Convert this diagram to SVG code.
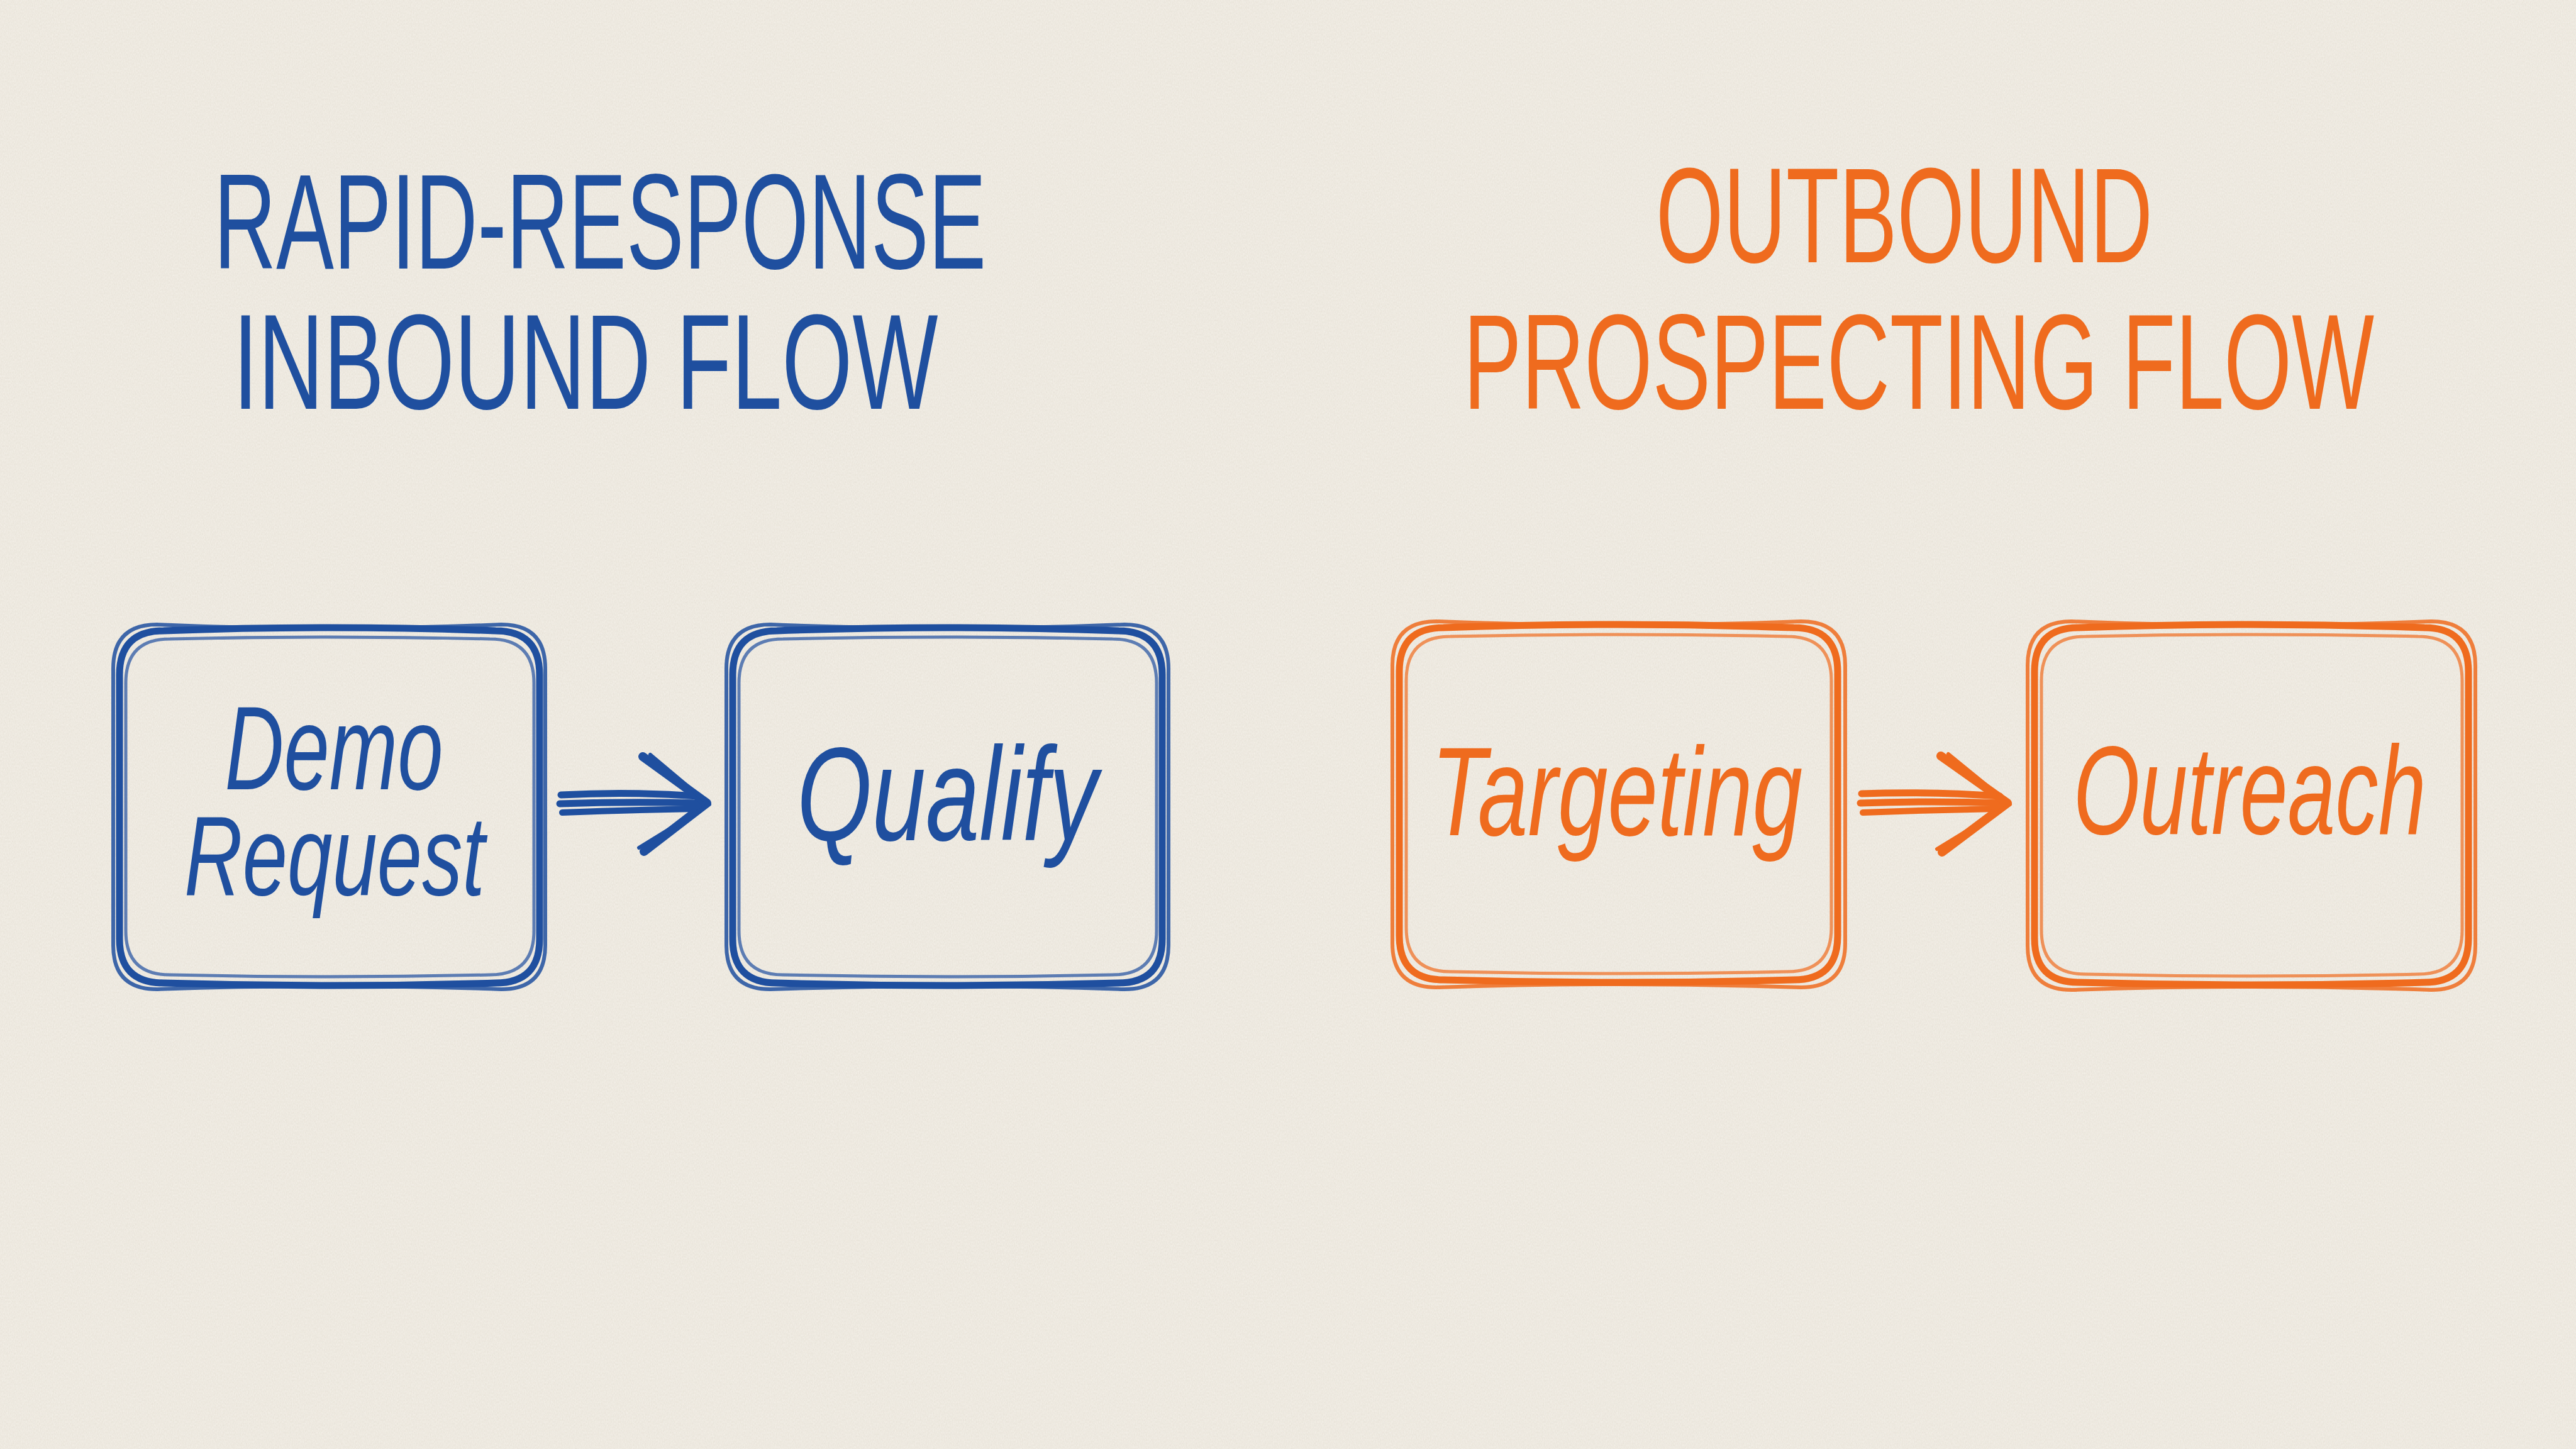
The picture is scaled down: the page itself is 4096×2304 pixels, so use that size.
<svg xmlns="http://www.w3.org/2000/svg" width="4096" height="2304" viewBox="0 0 4096 2304">
  <defs>
    <filter id="paper" x="0" y="0" width="100%" height="100%">
      <feTurbulence type="fractalNoise" baseFrequency="0.9 0.35" numOctaves="3" seed="7" result="n"/>
      <feColorMatrix in="n" type="matrix" values="0 0 0 0 0.60  0 0 0 0 0.55  0 0 0 0 0.45  0 0 0 0.4 -0.08"/>
    </filter>
    <filter id="blotch" x="0" y="0" width="100%" height="100%">
      <feTurbulence type="fractalNoise" baseFrequency="0.002 0.003" numOctaves="2" seed="3" result="n"/>
      <feColorMatrix in="n" type="matrix" values="0 0 0 0 0.88  0 0 0 0 0.85  0 0 0 0 0.78  0 0 0 0.35 -0.12"/>
    </filter>
  </defs>
  <style>
    .blue { stroke: #1f4f9f; }
    .orange { stroke: #ef6b1e; }
    .sk { fill: none; stroke-linecap: round; stroke-linejoin: round; }
    .s1 { stroke-width: 11; }
    .s2 { stroke-width: 6; opacity: 0.85; }
    .s3 { stroke-width: 5; opacity: 0.7; }
    text { text-anchor: middle; }
    .title { font-family: "Liberation Sans", "DejaVu Sans", sans-serif; font-size: 216px; }
    .label { font-family: "Liberation Sans", "DejaVu Sans", sans-serif; font-style: italic; }
    .tb { fill: #1f4f9f; }
    .to { fill: #ef6b1e; }
  </style>

  <rect width="4096" height="2304" fill="#f2eee6"/>
  <rect width="4096" height="2304" filter="url(#blotch)"/>
  <rect width="4096" height="2304" filter="url(#paper)"/>

  <g id="titles">
    <text class="title tb" x="954" y="427" textLength="1228" lengthAdjust="spacingAndGlyphs">RAPID-RESPONSE</text>
    <text class="title tb" x="931" y="650" textLength="1121" lengthAdjust="spacingAndGlyphs">INBOUND FLOW</text>
    <text class="title to" x="3028" y="417" textLength="790" lengthAdjust="spacingAndGlyphs">OUTBOUND</text>
    <text class="title to" x="3051" y="650" textLength="1448" lengthAdjust="spacingAndGlyphs">PROSPECTING FLOW</text>
  </g>

  <g id="node-demo">
    <path class="sk blue s1" d="M260,1003 Q524,993 788,1003 Q858,1003 858,1073 L858,1493 Q858,1563 788,1563 Q524,1571 260,1563 Q190,1563 190,1493 L190,1073 Q190,1003 260,1003 Z"/>
    <path class="sk blue s2" d="M250,993 Q523,1005 797,993 Q867,993 867,1063 L867,1503 Q867,1573 797,1573 Q523,1563 250,1573 Q180,1573 180,1503 L180,1063 Q180,993 250,993 Z"/>
    <path class="sk blue s3" d="M270,1016 Q524,1010 779,1016 Q849,1016 849,1086 L849,1480 Q849,1550 779,1550 Q524,1556 270,1550 Q200,1550 200,1480 L200,1086 Q200,1016 270,1016 Z"/>
    <text class="label tb" x="531" y="1255" font-size="190" textLength="347" lengthAdjust="spacingAndGlyphs">Demo</text>
    <text class="label tb" x="532" y="1423" font-size="180" textLength="478" lengthAdjust="spacingAndGlyphs">Request</text>
  </g>

  <g id="node-qualify">
    <path class="sk blue s1" d="M1235,1003 Q1506,993 1778,1003 Q1848,1003 1848,1073 L1848,1493 Q1848,1563 1778,1563 Q1506,1571 1235,1563 Q1165,1563 1165,1493 L1165,1073 Q1165,1003 1235,1003 Z"/>
    <path class="sk blue s2" d="M1225,993 Q1506,1005 1788,993 Q1858,993 1858,1063 L1858,1503 Q1858,1573 1788,1573 Q1506,1563 1225,1573 Q1155,1573 1155,1503 L1155,1063 Q1155,993 1225,993 Z"/>
    <path class="sk blue s3" d="M1245,1016 Q1507,1010 1769,1016 Q1839,1016 1839,1086 L1839,1480 Q1839,1550 1769,1550 Q1507,1556 1245,1550 Q1175,1550 1175,1480 L1175,1086 Q1175,1016 1245,1016 Z"/>
    <text class="label tb" x="1506" y="1336" font-size="212" textLength="478" lengthAdjust="spacingAndGlyphs">Qualify</text>
  </g>

  <g id="node-targeting">
    <path class="sk orange s1" d="M2295,998 Q2573,988 2852,998 Q2922,998 2922,1068 L2922,1488 Q2922,1558 2852,1558 Q2573,1566 2295,1558 Q2225,1558 2225,1488 L2225,1068 Q2225,998 2295,998 Z"/>
    <path class="sk orange s2" d="M2284,988 Q2574,1000 2864,988 Q2934,988 2934,1058 L2934,1500 Q2934,1570 2864,1570 Q2574,1560 2284,1570 Q2214,1570 2214,1500 L2214,1058 Q2214,988 2284,988 Z"/>
    <path class="sk orange s3" d="M2306,1012 Q2574,1006 2842,1012 Q2912,1012 2912,1082 L2912,1475 Q2912,1545 2842,1545 Q2574,1551 2306,1545 Q2236,1545 2236,1475 L2236,1082 Q2236,1012 2306,1012 Z"/>
    <text class="label to" x="2571" y="1328" font-size="200" textLength="590" lengthAdjust="spacingAndGlyphs">Targeting</text>
  </g>

  <g id="node-outreach">
    <path class="sk orange s1" d="M3305,998 Q3580,988 3855,998 Q3925,998 3925,1068 L3925,1492 Q3925,1562 3855,1562 Q3580,1570 3305,1562 Q3235,1562 3235,1492 L3235,1068 Q3235,998 3305,998 Z"/>
    <path class="sk orange s2" d="M3294,988 Q3580,1000 3866,988 Q3936,988 3936,1058 L3936,1504 Q3936,1574 3866,1574 Q3580,1564 3294,1574 Q3224,1574 3224,1504 L3224,1058 Q3224,988 3294,988 Z"/>
    <path class="sk orange s3" d="M3316,1012 Q3580,1006 3845,1012 Q3915,1012 3915,1082 L3915,1479 Q3915,1549 3845,1549 Q3580,1555 3316,1549 Q3246,1549 3246,1479 L3246,1082 Q3246,1012 3316,1012 Z"/>
    <text class="label to" x="3577" y="1326" font-size="200" textLength="561" lengthAdjust="spacingAndGlyphs">Outreach</text>
  </g>

  <g id="connectors">
    <g id="arrow-inbound">
      <path class="sk blue" stroke-width="11" d="M892,1264 Q1000,1258 1110,1266"/>
      <path class="sk blue" stroke-width="11" d="M890,1278 Q1000,1274 1114,1277"/>
      <path class="sk blue" stroke-width="10" d="M894,1292 Q1000,1288 1106,1286"/>
      <path class="sk blue" stroke-width="14" d="M1022,1203 L1124,1277 L1024,1354"/>
      <path class="sk blue" stroke-width="6" d="M1034,1200 L1128,1279 L1016,1348"/>
    </g>
    <g id="arrow-outbound">
      <path class="sk orange" stroke-width="11" d="M2960,1262 Q3070,1258 3180,1266"/>
      <path class="sk orange" stroke-width="11" d="M2958,1277 Q3070,1273 3186,1277"/>
      <path class="sk orange" stroke-width="10" d="M2962,1292 Q3070,1288 3176,1286"/>
      <path class="sk orange" stroke-width="14" d="M3086,1202 L3192,1277 L3088,1355"/>
      <path class="sk orange" stroke-width="6" d="M3098,1199 L3196,1279 L3080,1350"/>
    </g>
  </g>
</svg>
